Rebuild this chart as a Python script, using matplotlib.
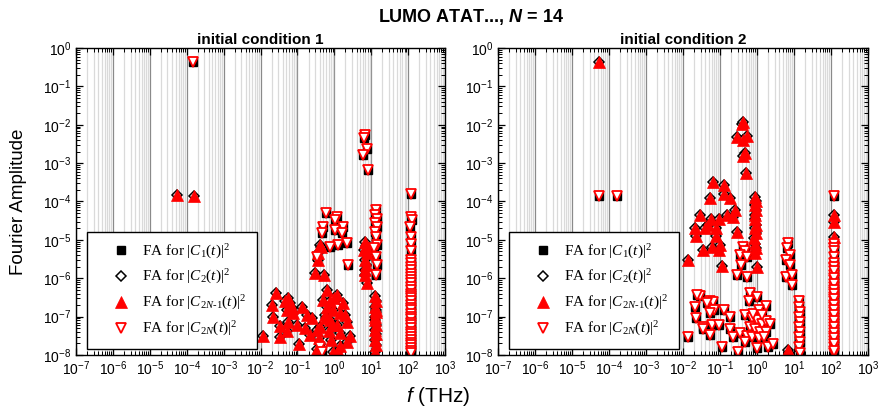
import numpy as np
import matplotlib
matplotlib.use("Agg")
from matplotlib import pyplot as plt
from matplotlib.ticker import LogLocator, FuncFormatter, NullFormatter

plt.rcParams['font.family'] = ['Liberation Sans', 'DejaVu Sans']
plt.rcParams['mathtext.fontset'] = 'custom'
plt.rcParams['mathtext.rm'] = 'Liberation Serif'
plt.rcParams['mathtext.it'] = 'Liberation Serif:italic'
plt.rcParams['mathtext.sf'] = 'Liberation Sans'
plt.rcParams['mathtext.bf'] = 'Liberation Sans:bold'
plt.rcParams['mathtext.cal'] = 'Liberation Sans:italic'
plt.rcParams['mathtext.bfit'] = 'Liberation Sans:bold:italic'

# ---- data: initial condition 1 ----
# group a: |C_1|^2 and |C_2N|^2 (square + open down triangle)
f_ic1_a = [1.5e-4,
           6.8, 6.3, 7.8, 5.9, 8.3,
           0.59, 1.15, 1.04, 0.50, 1.75, 0.45, 1.04, 1.58, 2.15, 1.28, 0.76, 2.4, 0.33, 0.41, 0.45,
           13.5, 12.8, 14.2, 13.0, 14.5, 12.5, 13.8, 14.8, 12.2, 13.2, 14.0, 13.6,
           120, 118, 124, 116, 121, 119, 117, 123, 120, 118, 122, 119, 121, 117, 120, 122,
           118, 121, 119, 120, 118, 122, 119, 121, 117, 120, 123, 118, 120, 122, 119, 121,
           118, 120, 122, 119, 121, 120, 118]
amp_ic1_a = [0.44,
             5.4e-3, 4.4e-3, 2.4e-3, 1.6e-3, 6.6e-4,
             4.9e-5, 4.0e-5, 3.3e-5, 2.2e-5, 2.2e-5, 1.5e-5, 1.8e-5, 1.5e-5, 8.1e-6, 7.3e-6, 6.6e-6, 2.2e-6, 3.6e-6, 1.6e-8, 1.2e-8,
             6e-5, 4.5e-5, 3.6e-5, 2.7e-5, 2.2e-5, 1.6e-5, 1.2e-5, 7.3e-6, 6e-6, 3.6e-6, 2.2e-6, 1.2e-6,
             1.55e-4, 4e-5, 3.3e-5, 2.2e-5, 1.2e-5, 8e-6, 5e-6, 3e-6, 2.5e-6, 2e-6, 1.6e-6, 1.3e-6, 1.1e-6, 9e-7, 7.5e-7, 6e-7,
             5e-7, 4e-7, 3.5e-7, 3e-7, 2.5e-7, 2e-7, 1.7e-7, 1.5e-7, 1.2e-7, 1e-7, 8.5e-8, 7e-8, 6e-8, 5e-8, 4e-8, 3.5e-8,
             3e-8, 2.5e-8, 2.1e-8, 1.8e-8, 1.5e-8, 1.3e-8, 1.1e-8]
# group b: |C_2|^2 and |C_2N-1|^2 (open diamond + filled up triangle)
f_ic1_b = [5.4e-5, 1.55e-4,
           6.8, 7.2, 6.5, 7.6, 6.9, 7.4, 6.6, 7.8, 7.0,
           0.41, 0.37, 0.44, 0.30, 0.52, 0.36,
           0.027, 0.020, 0.022, 0.056, 0.051, 0.063, 0.078, 0.13, 0.18, 0.034,
           0.056, 0.095, 0.16, 0.22, 0.33, 0.051, 0.034, 0.012, 0.11, 0.39,
           0.045, 0.07, 0.25,
           0.62, 1.15, 0.50, 0.76, 1.7, 0.9, 0.56, 1.4, 0.76, 2.2,
           1.15, 0.42, 0.7, 1.4, 2.2, 0.8, 0.42, 1.4, 0.33, 0.65,
           1.0, 1.9, 0.85, 1.25, 0.6, 2.6, 0.95,
           12.5, 13.2, 12.8, 13.5, 12.6, 13.0, 13.4, 12.7, 13.1, 12.9, 13.6, 12.8, 13.3]
amp_ic1_b = [1.5e-4, 1.4e-4,
             8.9e-6, 7e-6, 5.4e-6, 4.5e-6, 3e-6, 2.2e-6, 1.6e-6, 7.4e-7, 1.2e-6,
             7.3e-6, 4.5e-6, 6.5e-6, 1.35e-6, 1.2e-6, 3e-6,
             4.1e-7, 2.0e-7, 1.0e-7, 3.0e-7, 1.5e-7, 2.3e-7, 1.26e-7, 1.8e-7, 1.1e-7, 5.8e-8,
             7.4e-8, 6.2e-8, 5.1e-8, 3.4e-8, 4.6e-8, 4.1e-8, 3.0e-8, 3.2e-8, 1.9e-8, 2.8e-8,
             2.6e-7, 1.7e-7, 9e-8,
             5e-7, 3.7e-7, 2.7e-7, 2.5e-7, 2.3e-7, 1.5e-7, 1.1e-7, 1.26e-7, 8.3e-8, 7.4e-8,
             6.2e-8, 5.5e-8, 4.1e-8, 3.8e-8, 2.2e-8, 2.5e-8, 1.9e-8, 1.7e-8, 1.4e-8, 1.8e-7,
             3e-7, 1.1e-7, 6e-8, 1.3e-8, 9e-8, 3.2e-8, 1.2e-8,
             3.5e-7, 2.5e-7, 1.8e-7, 1.3e-7, 1e-7, 8e-8, 6e-8, 4.5e-8, 3.5e-8, 2.5e-8, 1.8e-8, 1.2e-8, 1.5e-7]

# ---- data: initial condition 2 ----
f_ic2_a = [5.4e-5, 1.6e-4,
           0.43, 0.47, 0.35, 0.53, 0.38, 0.29, 0.55, 0.65, 0.98, 1.75,
           0.029, 0.021, 0.022, 0.035, 0.0135, 0.024,
           0.054, 0.066, 0.045, 0.07, 0.13, 0.054, 0.19, 0.035, 0.059, 0.096, 0.19, 0.054, 0.23, 0.35, 0.11,
           0.47, 0.72, 0.98, 1.34, 1.8, 2.2, 0.65, 0.88, 1.2, 1.75, 0.53, 0.72, 1.1, 1.5, 2.0, 2.65,
           0.98, 0.47, 0.31, 0.8, 1.1, 0.6, 1.4,
           7.0, 6.3, 7.8, 6.1, 7.8, 5.9, 8.7, 8.7,
           14.0, 13.5, 14.5, 13.8, 14.2, 13.6, 14.4, 13.9, 14.1, 13.7, 14.3,
           120, 119, 121, 118, 122, 120, 119, 121, 118, 122, 120, 119, 121, 118, 122, 120,
           119, 121, 118, 122, 120, 119, 120, 121, 119, 120, 121, 119, 120, 122, 118, 120,
           121, 119, 120, 121, 120, 118]
amp_ic2_a = [1.4e-4, 1.4e-4,
             6.6e-6, 5e-6, 4e-6, 3.6e-6, 2.2e-6, 1.2e-6, 1.1e-6, 4.2e-7, 3.3e-7, 1.9e-7,
             3.5e-7, 1.8e-7, 9e-8, 5.3e-8, 2.9e-8, 3.6e-7,
             2.5e-7, 2.4e-7, 2.2e-7, 1.5e-7, 1.5e-7, 1.26e-7, 9.5e-8, 4.9e-8, 6e-8, 6e-8, 4.8e-8, 3.3e-8, 3e-8, 3.8e-8, 1.65e-8,
             1.1e-7, 9e-8, 8e-8, 6.6e-8, 7.5e-8, 6.6e-8, 5.5e-8, 4.7e-8, 4e-8, 4e-8, 3.2e-8, 3e-8, 2.7e-8, 3e-8, 1.65e-8, 1.9e-8,
             1.5e-8, 2.2e-8, 1.2e-8, 1.2e-7, 1.5e-7, 2.5e-7, 1.1e-7,
             8.1e-6, 6e-6, 4e-6, 3e-6, 2.2e-6, 1.05e-6, 1.2e-6, 6.6e-7,
             2.5e-7, 1.8e-7, 1.35e-7, 1e-7, 7.4e-8, 5.5e-8, 4e-8, 3e-8, 2.2e-8, 1.65e-8, 1.1e-8,
             1.4e-4, 8e-6, 6e-6, 5e-6, 3.6e-6, 2.5e-6, 1.8e-6, 1.2e-6, 9e-7, 6e-7, 4.5e-7, 3.3e-7, 2.5e-7, 1.8e-7, 1.3e-7, 9e-8,
             6.5e-8, 4.5e-8, 3.2e-8, 2.3e-8, 1.6e-8, 1.1e-8, 2e-6, 1.5e-6, 1e-6, 7e-7, 5e-7, 3.8e-7, 2.8e-7, 2e-7, 1.5e-7, 1.1e-7,
             7.5e-8, 5.5e-8, 3.8e-8, 2.7e-8, 1.9e-8, 1.3e-8]
f_ic2_b = [5.4e-5,
           0.39, 0.42, 0.29, 0.53, 0.43, 0.47, 0.43, 0.5,
           0.066, 0.13, 0.054, 0.13, 0.19,
           0.029, 0.057, 0.096, 0.15, 0.23, 0.25,
           0.021, 0.039, 0.048, 0.078, 0.023, 0.08, 0.28,
           0.035, 0.062, 0.1, 0.095, 0.115, 0.0135,
           0.88, 0.92, 0.86, 0.95, 0.9, 0.87, 0.93, 0.89, 0.96, 0.85, 0.91, 0.94, 0.88, 1.0,
           120, 118, 122,
           7.0, 7.5]
amp_ic2_b = [0.42,
             1.07e-2, 1.2e-2, 4.7e-3, 5e-3, 4e-3, 1.8e-3, 1.5e-3, 5.6e-4,
             3.2e-4, 2.7e-4, 1.2e-4, 1.6e-4, 1.2e-4,
             4.5e-5, 3.6e-5, 3.6e-5, 4.5e-5, 4e-5, 6e-5,
             2e-5, 2e-5, 2.5e-5, 2e-5, 1.3e-5, 1.3e-5, 1.6e-5,
             5.4e-6, 6.6e-6, 7.3e-6, 5.4e-6, 2.1e-6, 3e-6,
             1.3e-4, 1e-4, 8e-5, 6e-5, 4.5e-5, 3.5e-5, 2.5e-5, 2e-5, 1.5e-5, 1.1e-5, 8e-6, 6e-6, 4.5e-6, 2e-6,
             4.5e-5, 3e-5, 1.2e-5,
             1.35e-8, 1.1e-8]

panels = [("initial condition 1", f_ic1_a, amp_ic1_a, f_ic1_b, amp_ic1_b),
          ("initial condition 2", f_ic2_a, amp_ic2_a, f_ic2_b, amp_ic2_b)]

labels = [r'FA for $|C_1(t)|^2$', r'FA for $|C_2(t)|^2$',
          r'FA for $|C_{2N\text{-}1}(t)|^2$', r'FA for $|C_{2N}(t)|^2$']

fig = plt.figure(figsize=(8.81, 4.15), dpi=100)
W, H = 881.0, 415.0
ax_boxes = [(76, 369), (498, 370)]
y_top, y_bot = 48, 355

def fmt(v, pos):
    return r'$\mathsf{10^{%d}}$' % int(round(np.log10(v)))

for (x0, w), (title, fa, aa, fb, ab) in zip(ax_boxes, panels):
    ax = fig.add_axes([x0 / W, 1 - y_bot / H, w / W, (y_bot - y_top) / H])
    ax.set_xscale('log')
    ax.set_yscale('log')
    ax.set_xlim(1e-7, 1e3)
    ax.set_ylim(1e-8, 1)
    for axis in (ax.xaxis, ax.yaxis):
        axis.set_major_locator(LogLocator(base=10, numticks=20))
        axis.set_minor_locator(LogLocator(base=10, subs=np.arange(2, 10), numticks=20))
        axis.set_minor_formatter(NullFormatter())
        axis.set_major_formatter(FuncFormatter(fmt))
    ax.xaxis.grid(True, which='minor', color='#dadada', lw=0.9)
    ax.xaxis.grid(True, which='major', color='#8a8a8a', lw=0.9)
    ax.set_axisbelow(True)
    ax.tick_params(which='both', direction='in', top=True, right=True, labelsize=10, color='black')
    ax.tick_params(which='major', length=5, width=0.9)
    ax.tick_params(which='minor', length=3, width=0.7)
    for s in ax.spines.values():
        s.set_linewidth(1.0)

    h1, = ax.plot(fa, aa, ls='none', marker='s', ms=5.8, mfc='black', mec='black', mew=1)
    h2, = ax.plot(fb, ab, ls='none', marker='D', ms=5.2, mfc='white', mec='black', mew=1.1)
    h3, = ax.plot(fb, ab, ls='none', marker='^', ms=8, mfc='red', mec='red', mew=0.5)
    h4, = ax.plot(fa, aa, ls='none', marker='v', ms=7, mfc='white', mec='red', mew=1.3)

    ax.set_title(title, fontsize=11, fontweight='bold', pad=3)
    leg = ax.legend([h1, h2, h3, h4], labels, loc='lower left',
                    bbox_to_anchor=(0.03, 0.02), borderaxespad=0,
                    prop={'family': 'Liberation Serif', 'size': 11},
                    fancybox=False, framealpha=1, edgecolor='black',
                    borderpad=0.7, labelspacing=0.5, handlelength=3.0, handletextpad=-0.1)
    leg.get_frame().set_linewidth(1.0)

fig.text(0.021, (1 - (y_top + y_bot) / 2 / H), 'Fourier Amplitude', rotation=90,
         va='center', ha='center', fontsize=13.5)
fig.text(0.497, 0.045, r'$\mathcal{f}$ (THz)', ha='center', va='center', fontsize=15)
fig.text(471 / W, 1 - 17 / H, r'LUMO ATAT..., $\mathbfit{N}$ = 14', ha='center', va='center',
         fontsize=13, fontweight='bold', family=['Liberation Sans Narrow', 'Liberation Sans'])

fig.savefig('out.png', dpi=100)
